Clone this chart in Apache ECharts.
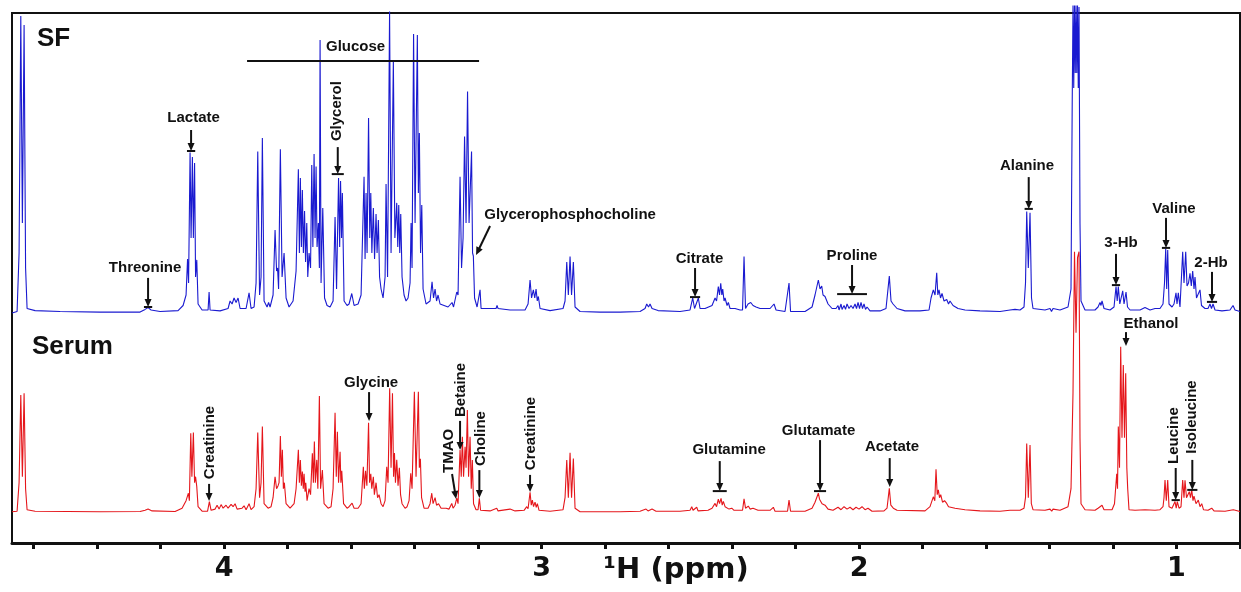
<!DOCTYPE html>
<html>
<head>
<meta charset="utf-8">
<title>1H NMR spectra: SF and Serum</title>
<script src="https://cdn.jsdelivr.net/npm/echarts@6/dist/echarts.min.js"></script>
<style>
  html, body { margin: 0; padding: 0; background: #ffffff; }
  #chart { width: 1241px; height: 592px; }
</style>
</head>
<body>
<div id="chart"></div>
<script>
// Chemical-shift values that carry a printed tick label, and all tick positions
const labelledPpm = [4, 3, 2, 1];
const tickPpm = [4.6, 4.4, 4.2, 4.0, 3.8, 3.6, 3.4, 3.2, 3.0, 2.8, 2.6, 2.4, 2.2, 2.0, 1.8, 1.6, 1.4, 1.2, 1.0, 0.8];

// SF spectrum: [chemical shift (ppm), relative intensity]
const sfSpectrum = [
  [4.6677,0],[4.6520,0.5],[4.6457,20],[4.6403,99],[4.6353,30],[4.6299,96],[4.6252,15],[4.6205,1.5],[4.5953,0.8],[4.5165,0.5],
  [4.3905,0.3],[4.2646,0.3],[4.2488,1.2],[4.2394,1.8],[4.2299,1.0],[4.2016,0.5],[4.1449,0.8],[4.1291,2.5],[4.1197,6],[4.1150,18],
  [4.1118,10],[4.1071,53.5],[4.1039,25],[4.0998,52],[4.0967,25],[4.0929,50],[4.0898,12],[4.0860,17.7],[4.0819,3],[4.0693,1],
  [4.0504,1],[4.0472,7],[4.0441,1],[4.0126,0.7],[3.9874,1.5],[3.9811,4],[3.9748,3],[3.9685,5],[3.9622,3.5],[3.9559,5],
  [3.9496,1.5],[3.9307,1.5],[3.9213,6.7],[3.9150,1.5],[3.9055,2],[3.8992,10],[3.8939,53.8],[3.8882,6],[3.8835,12],[3.8794,58.3],
  [3.8740,4],[3.8646,2],[3.8598,3.5],[3.8551,2],[3.8457,6],[3.8394,27.7],[3.8346,14],[3.8315,15],[3.8283,8],[3.8227,54.6],
  [3.8173,12],[3.8110,20],[3.8047,5],[3.7953,2],[3.7827,4],[3.7732,14],[3.7660,47.9],[3.7628,20],[3.7597,45],[3.7565,22],
  [3.7534,41],[3.7502,20],[3.7465,34],[3.7433,17],[3.7395,30],[3.7364,12],[3.7323,20],[3.7276,15],[3.7238,49.3],[3.7203,22],
  [3.7165,53],[3.7134,25],[3.7102,48.8],[3.7071,22],[3.7030,30],[3.6998,15],[3.6976,91],[3.6945,10],[3.6891,35],[3.6835,5],
  [3.6756,2.5],[3.6661,2],[3.6567,4],[3.6504,32],[3.6457,8],[3.6394,45],[3.6359,22],[3.6331,44],[3.6299,25],[3.6274,40],
  [3.6220,4],[3.6126,2.5],[3.6063,3],[3.5978,6.5],[3.5905,2.5],[3.5779,3],[3.5685,6],[3.5591,45.4],[3.5559,18],[3.5528,40],
  [3.5496,20],[3.5449,65],[3.5411,25],[3.5379,40],[3.5345,20],[3.5298,35],[3.5260,18],[3.5213,33],[3.5181,20],[3.5140,31],
  [3.5102,12],[3.5055,8],[3.4992,5],[3.4929,12],[3.4898,43],[3.4850,12],[3.4787,100.5],[3.4740,20],[3.4668,84],[3.4620,25],
  [3.4561,36.7],[3.4529,22],[3.4498,36],[3.4466,20],[3.4435,33],[3.4394,12],[3.4331,6],[3.4268,4],[3.4205,5],[3.4142,10],
  [3.4110,30],[3.4079,15],[3.4031,93],[3.3984,30],[3.3912,92.7],[3.3880,40],[3.3849,60],[3.3811,20],[3.3773,36],[3.3732,8],
  [3.3638,3],[3.3512,4],[3.3449,10.4],[3.3402,5],[3.3354,8],[3.3307,4],[3.3260,6],[3.3197,3],[3.3071,2.5],[3.2945,2],
  [3.2819,3.5],[3.2772,2],[3.2671,7],[3.2630,6],[3.2567,45.4],[3.2520,15],[3.2472,25],[3.2425,58.8],[3.2378,30],[3.2331,73.8],
  [3.2283,30],[3.2205,53.8],[3.2173,20],[3.2148,19],[3.2110,5],[3.2031,2],[3.1937,7.7],[3.1905,1.5],[3.1622,1.5],[3.1433,1.5],
  [3.1402,2.5],[3.1370,1.5],[3.0992,1],[3.0520,1],[3.0425,3],[3.0362,11],[3.0315,5],[3.0258,7.7],[3.0214,5],[3.0173,8],
  [3.0135,4],[3.0101,5.5],[3.0047,1.5],[2.9732,0.8],[2.9323,1.5],[2.9260,4],[2.9206,17],[2.9156,6],[2.9102,18.8],[2.9055,6],
  [2.8998,17],[2.8945,2],[2.8787,0.5],[2.8157,0.3],[2.7528,0.3],[2.6898,0.5],[2.6740,1.5],[2.6687,3],[2.6630,2],[2.6583,3],
  [2.6520,1.5],[2.6331,0.8],[2.5638,0.5],[2.5323,1],[2.5238,5],[2.5181,1.5],[2.5061,5],[2.5008,1.5],[2.4850,1.5],[2.4630,2.5],
  [2.4535,5],[2.4488,4],[2.4432,8.8],[2.4394,6],[2.4356,9.9],[2.4321,6],[2.4293,8],[2.4252,4],[2.4220,5],[2.4157,2.5],
  [2.4116,3.5],[2.4063,1.5],[2.3905,1.5],[2.3748,1],[2.3669,1],[2.3622,18.8],[2.3575,1.5],[2.3496,3],[2.3411,3.5],[2.3339,2.5],
  [2.3244,2],[2.3118,1.5],[2.2803,1.5],[2.2677,3],[2.2614,1],[2.2331,0.5],[2.2205,10],[2.2157,0.5],[2.1701,0.5],[2.1480,2],
  [2.1386,6],[2.1282,11],[2.1228,8],[2.1175,9],[2.1134,6],[2.1071,5.5],[2.0976,3],[2.0850,1.5],[2.0724,1.5],[2.0661,2.5],
  [2.0630,1],[2.0567,3],[2.0535,1.2],[2.0472,2.5],[2.0425,1.2],[2.0378,3],[2.0315,1.5],[2.0252,2.5],[2.0189,1.5],[2.0126,3],
  [2.0079,1.5],[2.0031,3.5],[1.9984,1.5],[1.9937,3.5],[1.9890,1.5],[1.9843,3],[1.9795,1.2],[1.9748,2],[1.9654,0.7],[1.9339,0.7],
  [1.9150,1.5],[1.9046,12.3],[1.8992,4],[1.8929,3],[1.8803,1.5],[1.8551,0.7],[1.8079,0.7],[1.7795,1],[1.7732,5],[1.7660,7.7],
  [1.7606,6],[1.7553,13.4],[1.7518,6],[1.7480,7.7],[1.7433,5],[1.7386,6.5],[1.7323,4],[1.7238,4.5],[1.7181,3],[1.7134,4],
  [1.7039,2.5],[1.6882,1.5],[1.6661,1],[1.6189,0.7],[1.5559,0.5],[1.5244,1],[1.5087,1.2],[1.4929,1],[1.4803,2],[1.4756,10],
  [1.4718,33.8],[1.4668,15],[1.4614,33.4],[1.4567,5],[1.4520,1.5],[1.4142,1],[1.3984,1.5],[1.3937,0.5],[1.3890,1.5],[1.3669,1],
  [1.3417,2],[1.3323,8],[1.3285,70],[1.3260,102.5],[1.3237,75],[1.3213,102.5],[1.3189,80],[1.3165,102.5],[1.3141,80],[1.3118,102.5],
  [1.3094,75],[1.3071,102],[1.3040,30],[1.3008,4],[1.2882,1],[1.2567,1],
  [1.2472,2],[1.2409,3.5],[1.2378,2.5],[1.2346,4],[1.2283,1.5],[1.2094,1],[1.1968,2],[1.1905,8.8],[1.1868,4],[1.1833,8.8],
  [1.1786,3],[1.1694,7.4],[1.1653,3],[1.1590,7],[1.1543,2],[1.1464,1],[1.1149,1],[1.0992,1.8],[1.0834,1],[1.0677,1.5],
  [1.0520,1.5],[1.0425,3],[1.0378,10],[1.0340,21.5],[1.0309,8],[1.0277,21],[1.0236,3],[1.0142,2],[1.0079,3],[1.0016,6.7],
  [0.9984,3],[0.9943,6.7],[0.9890,2],[0.9805,20.4],[0.9764,10],[0.9710,20.4],[0.9669,9],[0.9622,10],[0.9575,13.2],[0.9534,9],
  [0.9490,14],[0.9449,8],[0.9417,12],[0.9370,5],[0.9323,5],[0.9260,7.7],[0.9213,2.5],[0.9102,1.5],[0.9008,1.5],[0.8945,3],
  [0.8898,1.5],[0.8850,3],[0.8787,1],[0.8567,0.7],[0.8315,1],[0.8220,2.5],[0.8157,1],[0.8000,0.5]
];

// Serum spectrum: [chemical shift (ppm), relative intensity]
const serumSpectrum = [
  [4.6677,0.3],[4.6520,0.5],[4.6457,10],[4.6403,39.2],[4.6353,12],[4.6299,39.8],[4.6252,8],[4.6205,1],[4.5953,0.5],[4.3905,0.3],
  [4.2646,0.4],[4.2488,0.8],[4.2394,1.2],[4.2268,0.6],[4.1543,0.4],[4.1323,1.5],[4.1197,4],[4.1124,6.5],[4.1093,4],[4.1049,26.5],
  [4.1014,12],[4.0967,26.7],[4.0929,10],[4.0898,12],[4.0860,8.7],[4.0819,2],[4.0693,0.5],[4.0520,0.5],[4.0463,3.7],[4.0409,0.8],
  [4.0283,1.2],[4.0220,2.5],[4.0157,1.2],[4.0094,2.7],[4.0031,1.5],[3.9937,2.5],[3.9874,1.5],[3.9779,2.8],[3.9716,2],[3.9653,3],
  [3.9590,1.2],[3.9433,1.5],[3.9370,2.3],[3.9307,1],[3.9213,3],[3.9150,1],[3.9055,2],[3.8992,8],[3.8939,26.7],[3.8882,5],
  [3.8835,10],[3.8794,28.7],[3.8740,3],[3.8614,1.5],[3.8520,2],[3.8457,5],[3.8394,12],[3.8346,8],[3.8299,9],[3.8268,10],
  [3.8227,25.6],[3.8195,12],[3.8164,21],[3.8132,8],[3.8101,10],[3.8047,3],[3.7921,1.5],[3.7795,3],[3.7732,8],[3.7660,21],
  [3.7628,10],[3.7597,17.6],[3.7565,9],[3.7534,13.7],[3.7505,8],[3.7480,13],[3.7449,7],[3.7427,10],[3.7386,4],[3.7323,8],
  [3.7276,6],[3.7219,19.8],[3.7187,10],[3.7156,23.7],[3.7124,10],[3.7080,17.6],[3.7046,8],[3.6998,38.9],[3.6960,8],[3.6904,14.2],
  [3.6850,3],[3.6724,1.5],[3.6630,2],[3.6567,8],[3.6504,33.3],[3.6466,12],[3.6431,27],[3.6394,10],[3.6346,20.3],[3.6321,10],
  [3.6293,14],[3.6236,3],[3.6126,1.5],[3.6063,2],[3.5968,3.2],[3.5905,1.5],[3.5779,1.5],[3.5685,3],[3.5613,15.3],[3.5581,8],
  [3.5543,14],[3.5502,9],[3.5449,30],[3.5417,10],[3.5379,13],[3.5348,8],[3.5298,12],[3.5266,6],[3.5213,10],[3.5165,5],
  [3.5118,6],[3.5055,3],[3.4992,2],[3.4929,4],[3.4876,15.3],[3.4835,10],[3.4784,41.5],[3.4740,15],[3.4696,39.8],[3.4661,12],
  [3.4633,19.9],[3.4602,10],[3.4561,17.6],[3.4520,9],[3.4479,15],[3.4441,6],[3.4394,3],[3.4299,1.5],[3.4236,2],[3.4173,4],
  [3.4120,13.1],[3.4079,8],[3.4006,40.3],[3.3953,12],[3.3880,40.3],[3.3849,15],[3.3817,18],[3.3779,5],[3.3701,1.5],[3.3575,1.5],
  [3.3512,3],[3.3458,6.5],[3.3417,3],[3.3354,5],[3.3307,2.5],[3.3244,3],[3.3165,1.5],[3.3008,1.5],[3.2913,1.2],[3.2828,3.1],
  [3.2787,1.5],[3.2724,2.5],[3.2671,4.9],[3.2630,3],[3.2567,20.9],[3.2529,12],[3.2494,25.3],[3.2457,12],[3.2409,22],[3.2378,15],
  [3.2337,34.2],[3.2299,12],[3.2252,25.3],[3.2214,8],[3.2180,17.6],[3.2142,3],[3.2063,1],[3.2000,1],[3.1959,4.8],[3.1921,0.8],
  [3.1622,0.6],[3.1411,1.5],[3.1370,0.6],[3.0992,1.2],[3.0835,0.6],[3.0551,0.8],[3.0466,2],[3.0425,1.3],[3.0362,6.8],[3.0324,2.5],
  [3.0290,4.2],[3.0252,2],[3.0205,3.5],[3.0167,1.8],[3.0132,3],[3.0079,0.8],[2.9732,0.5],[2.9323,1],[2.9260,5],[2.9206,17.6],
  [2.9156,5],[2.9102,20],[2.9055,5],[2.8998,18.1],[2.8945,1.5],[2.8787,0.3],[2.7528,0.3],[2.6898,0.5],[2.6709,1.2],[2.6646,0.6],
  [2.6520,1.2],[2.6394,0.5],[2.5638,0.5],[2.5323,0.8],[2.5269,2],[2.5228,0.8],[2.5112,1.8],[2.5071,0.6],[2.4756,0.8],[2.4630,1.5],
  [2.4535,3.1],[2.4488,2],[2.4432,4.5],[2.4394,3],[2.4346,4.8],[2.4309,2.5],[2.4274,3.8],[2.4220,2],[2.4167,2.5],[2.4094,1.2],
  [2.4009,1.5],[2.3937,0.8],[2.3669,0.8],[2.3622,4.6],[2.3575,1.5],[2.3487,2.2],[2.3433,1.2],[2.3339,1.5],[2.3181,0.8],[2.2803,0.8],
  [2.2699,1.8],[2.2646,0.5],[2.2252,0.5],[2.2205,4.2],[2.2157,0.5],[2.1701,0.5],[2.1480,1.5],[2.1386,3.5],[2.1282,6.5],[2.1244,4.5],
  [2.1206,5],[2.1165,3],[2.1071,2.5],[2.0976,1.2],[2.0819,0.8],[2.0661,1.8],[2.0567,1],[2.0472,2],[2.0378,1.2],[2.0283,1.8],
  [2.0189,1],[2.0094,1.8],[2.0000,1.2],[1.9906,2],[1.9811,1],[1.9717,1.5],[1.9591,0.5],[1.9213,0.6],[1.9118,1.5],[1.9046,8.1],
  [1.8998,2.5],[1.8920,1.5],[1.8803,0.8],[1.7921,0.6],[1.7764,2],[1.7660,5.3],[1.7613,4],[1.7575,14.5],[1.7537,6],[1.7502,7.6],
  [1.7465,5],[1.7427,6],[1.7370,3.5],[1.7307,4],[1.7238,3.1],[1.7181,2],[1.7134,2.5],[1.6976,1.5],[1.6661,1],[1.6189,0.6],
  [1.5559,0.5],[1.5244,0.8],[1.4929,0.8],[1.4803,1.5],[1.4756,5],[1.4718,23.1],[1.4668,5],[1.4614,22.6],[1.4573,3],[1.4520,1],
  [1.4142,0.8],[1.3984,1.2],[1.3931,0.5],[1.3890,1.2],[1.3669,0.8],[1.3417,2],[1.3323,8],[1.3260,40],[1.3213,87],[1.3165,60],
  [1.3118,85],[1.3071,87],[1.3040,25],[1.3008,3],[1.2882,1],[1.2567,0.8],[1.2472,1.5],[1.2409,2],[1.2378,1.5],[1.2346,2.5],[1.2283,1],
  [1.2031,1],[1.1953,3],[1.1883,13],[1.1858,8],[1.1833,28.7],[1.1795,15],[1.1758,55.3],[1.1717,25],[1.1676,49.2],[1.1638,25],
  [1.1600,46.5],[1.1565,15],[1.1537,8],[1.1496,1],[1.1307,0.8],[1.0992,1],[1.0677,0.8],[1.0520,1],[1.0425,2],[1.0394,5],
  [1.0362,10.9],[1.0321,4],[1.0277,10.9],[1.0236,2],[1.0142,1.5],[1.0047,3.7],[1.0009,1.5],[0.9975,3.7],[0.9921,1.5],[0.9858,2],
  [0.9805,10.9],[0.9764,5],[0.9732,10.8],[0.9685,5],[0.9638,5],[0.9597,7],[0.9559,5],[0.9521,7.6],[0.9480,4],[0.9449,5.5],
  [0.9386,3],[0.9313,4.2],[0.9260,2],[0.9206,3],[0.9150,1],[0.9008,0.8],[0.8891,1.5],[0.8819,0.6],[0.8472,0.5],[0.8211,1],
  [0.8157,0.4],[0.8000,0.4]
];

// Metabolite assignments, anchored in (ppm, intensity) of their spectrum.
// x/x0: arrow head / tail shift, y0/y1: arrow tail / head intensity,
// bar: half-width (ppm) of the bracket under the head, tx/ty: label centre.
const sfAnnotations = [
  { t: 'Lactate', x: 4.1039, y0: 61.0, y1: 54.0, bar: 0.013, tx: 4.0961, ty: 65.0 },
  { t: 'Threonine', x: 4.2394, y0: 11.7, y1: 2.0, bar: 0.013, tx: 4.2488, ty: 15.0 },
  { t: 'Glycerol', x: 3.6419, y0: 55.3, y1: 46.3, bar: 0.019, tx: 3.6441, ty: 67.3, rot: true },
  { t: 'Glycerophosphocholine', x0: 3.1622, x: 3.2063, y0: 29.0, y1: 19.3, tx: 2.9102, ty: 32.7 },
  { t: 'Citrate', x: 2.5165, y0: 15.0, y1: 5.3, bar: 0.016, tx: 2.5024, ty: 18.2 },
  { t: 'Proline', x: 2.0220, y0: 16.0, y1: 6.3, bar: 0.047, tx: 2.0220, ty: 19.2 },
  { t: 'Alanine', x: 1.4655, y0: 45.3, y1: 34.7, bar: 0.013, tx: 1.4708, ty: 49.0 },
  { t: '3-Hb', x: 1.1905, y0: 19.7, y1: 9.3, bar: 0.013, tx: 1.1748, ty: 23.5 },
  { t: 'Valine', x: 1.0330, y0: 31.7, y1: 21.7, bar: 0.013, tx: 1.0078, ty: 34.8 },
  { t: '2-Hb', x: 0.8882, y0: 13.7, y1: 3.7, bar: 0.016, tx: 0.8914, ty: 16.8 }
];
const serumAnnotations = [
  { t: 'Creatinine', x: 4.0472, y0: 9.6, y1: 3.9, tx: 4.0441, ty: 23.4, rot: true },
  { t: 'Glycine', x: 3.5433, y0: 40.2, y1: 30.6, tx: 3.5370, ty: 43.2 },
  { t: 'TMAO', x0: 3.2819, x: 3.2693, y0: 12.9, y1: 4.6, tx: 3.2914, ty: 20.6, rot: true },
  { t: 'Betaine', x: 3.2567, y0: 30.6, y1: 20.9, tx: 3.2551, ty: 40.9, rot: true },
  { t: 'Choline', x: 3.1959, y0: 14.2, y1: 4.9, tx: 3.1906, ty: 24.7, rot: true },
  { t: 'Creatinine', x: 3.0362, y0: 12.6, y1: 6.9, tx: 3.0346, ty: 26.4, rot: true },
  { t: 'Glutamine', x: 2.4387, y0: 17.2, y1: 7.2, bar: 0.022, tx: 2.4094, ty: 20.9 },
  { t: 'Glutamate', x: 2.1228, y0: 24.2, y1: 7.2, bar: 0.019, tx: 2.1275, ty: 27.4 },
  { t: 'Acetate', x: 1.9033, y0: 18.2, y1: 8.6, tx: 1.8961, ty: 21.9 },
  { t: 'Ethanol', x: 1.1590, y0: 60.2, y1: 55.6, tx: 1.0803, ty: 63.1 },
  { t: 'Leucine', x: 1.0025, y0: 14.9, y1: 4.2, bar: 0.013, tx: 1.0095, ty: 25.7, rot: true },
  { t: 'Isoleucine', x: 0.9502, y0: 17.6, y1: 7.6, bar: 0.016, tx: 0.9512, ty: 31.9, rot: true }
];
// Glucose spans several multiplets: a horizontal bracket with its label
const glucoseBracket = { t: 'Glucose', from: 3.9276, to: 3.1968, level: 84.0, tx: 3.5858, ty: 88.8 };

const INK = '#111111';
const LABEL_FONT = 'bold 15px "Liberation Sans", Arial, sans-serif';

const chart = echarts.init(document.getElementById('chart'), null, { renderer: 'canvas' });

chart.setOption({
  animation: false,
  grid: {
    left: 12, right: 1, top: 13, bottom: 49,
    outerBoundsMode: 'none',
    containLabel: false,
    show: true, borderColor: INK, borderWidth: 2, backgroundColor: 'transparent'
  },
  xAxis: {
    type: 'value',
    inverse: true,
    min: 0.8,
    max: 4.668,
    axisLine: { onZero: false, lineStyle: { color: INK, width: 3 } },
    axisTick: { length: 6, customValues: tickPpm, lineStyle: { color: INK, width: 3 } },
    splitLine: { show: false },
    axisLabel: {
      customValues: labelledPpm,
      margin: 12,
      color: INK,
      fontFamily: '"DejaVu Sans", sans-serif',
      fontWeight: 'bold',
      fontSize: 27,
      formatter: function (v) { return String(Math.round(v)); }
    },
    name: '\u00B9H (ppm)',
    nameLocation: 'middle',
    nameGap: 13,
    nameMoveOverlap: false,
    nameTextStyle: {
      color: INK,
      fontFamily: '"DejaVu Sans", sans-serif',
      fontWeight: 'bold',
      fontSize: 29,
      padding: [0, 0, 0, 100]
    }
  },
  yAxis: [
    { type: 'value', min: -76.67, max: 100, show: false },
    { type: 'value', min: -10.1, max: 166.57, show: false }
  ],
  series: [
    {
      name: 'Serum', type: 'line', xAxisIndex: 0, yAxisIndex: 1,
      data: serumSpectrum, symbol: 'none', showSymbol: false, silent: true, clip: false,
      lineStyle: { color: '#e5161b', width: 1.1 }, z: 2
    },
    {
      name: 'SF', type: 'line', xAxisIndex: 0, yAxisIndex: 0,
      data: sfSpectrum, symbol: 'none', showSymbol: false, silent: true, clip: false,
      lineStyle: { color: '#1a1ad0', width: 1.1 }, z: 3
    }
  ]
});

// Place the annotation graphics through the axes of each spectrum
function toPx(seriesIndex, ppm, value) {
  return chart.convertToPixel({ seriesIndex: seriesIndex }, [ppm, value]);
}

const graphics = [];

function addLabel(p, text, rotate) {
  graphics.push({
    type: 'text', x: p[0], y: p[1], rotation: rotate ? Math.PI / 2 : 0, z: 20,
    style: { text: text, font: LABEL_FONT, fill: INK, align: 'center', verticalAlign: 'middle' }
  });
}

function addAnnotation(seriesIndex, a) {
  const tail = toPx(seriesIndex, a.x0 !== undefined ? a.x0 : a.x, a.y0);
  const head = toPx(seriesIndex, a.x, a.y1);
  const dx = head[0] - tail[0], dy = head[1] - tail[1];
  const len = Math.hypot(dx, dy), ux = dx / len, uy = dy / len;
  const headLen = 8, headHalf = 3.5;
  const bx = head[0] - ux * headLen, by = head[1] - uy * headLen;
  graphics.push({
    type: 'line', z: 20,
    shape: { x1: tail[0], y1: tail[1], x2: bx + ux, y2: by + uy },
    style: { stroke: INK, lineWidth: 2 }
  });
  graphics.push({
    type: 'polygon', z: 20,
    shape: { points: [[head[0], head[1]], [bx - uy * headHalf, by + ux * headHalf], [bx + uy * headHalf, by - ux * headHalf]] },
    style: { fill: INK }
  });
  if (a.bar) {
    const l = toPx(seriesIndex, a.x + a.bar, a.y1);
    const r = toPx(seriesIndex, a.x - a.bar, a.y1);
    graphics.push({
      type: 'line', z: 20,
      shape: { x1: l[0], y1: l[1], x2: r[0], y2: r[1] },
      style: { stroke: INK, lineWidth: 2 }
    });
  }
  addLabel(toPx(seriesIndex, a.tx, a.ty), a.t, a.rot);
}

// series 0 = Serum, series 1 = SF
sfAnnotations.forEach(function (a) { addAnnotation(1, a); });
serumAnnotations.forEach(function (a) { addAnnotation(0, a); });

// Glucose bracket
const gl = toPx(1, glucoseBracket.from, glucoseBracket.level);
const gr = toPx(1, glucoseBracket.to, glucoseBracket.level);
graphics.push({
  type: 'line', z: 20,
  shape: { x1: gl[0], y1: gl[1], x2: gr[0], y2: gr[1] },
  style: { stroke: INK, lineWidth: 2 }
});
addLabel(toPx(1, glucoseBracket.tx, glucoseBracket.ty), glucoseBracket.t, false);

// Panel titles
graphics.push({
  type: 'text', left: 37, top: 26, z: 20,
  style: { text: 'SF', font: 'bold 26px "Liberation Sans", Arial, sans-serif', fill: INK }
});
graphics.push({
  type: 'text', left: 32, top: 334, z: 20,
  style: { text: 'Serum', font: 'bold 26px "Liberation Sans", Arial, sans-serif', fill: INK }
});

chart.setOption({ graphic: graphics });
</script>
</body>
</html>
